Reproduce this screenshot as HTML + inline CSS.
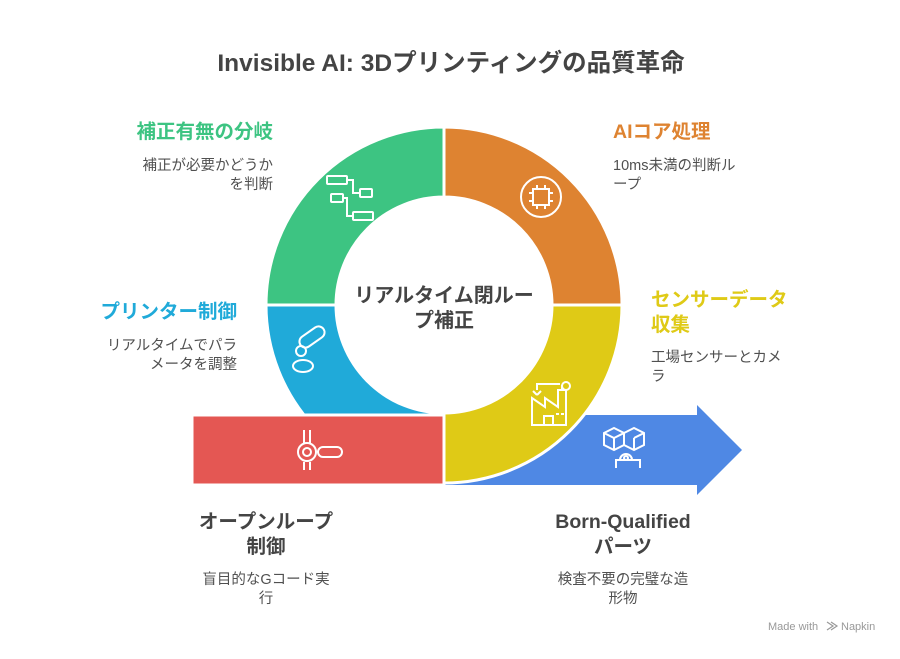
<!DOCTYPE html>
<html><head><meta charset="utf-8"><style>
html,body{margin:0;padding:0;background:#fff;}
svg text{font-family:"Liberation Sans","Noto Sans CJK JP",sans-serif;}
.t{font-weight:bold;font-size:19.5px;}
.c{font-weight:bold;font-size:20px;}
.s{font-size:14.5px;fill:#505050;}
</style></head><body>
<svg width="900" height="654" viewBox="0 0 900 654" xmlns="http://www.w3.org/2000/svg">
<rect width="900" height="654" fill="#fff"/>
<text x="451" y="71" text-anchor="middle" style="font-weight:bold;font-size:24.5px" fill="#444">Invisible AI: 3Dプリンティングの品質革命</text>

<path d="M444 415 H697 V405 L742 450 L697 495 V485 H444 Z" fill="#4f88e4"/>
<path d="M266 305 A178 178 0 0 1 444 127 V197 A108 108 0 0 0 336 305 Z" fill="#3dc482" stroke="#fff" stroke-width="3"/>
<path d="M444 127 A178 178 0 0 1 622 305 H552 A108 108 0 0 0 444 197 Z" fill="#de8331" stroke="#fff" stroke-width="3"/>
<path d="M622 305 A178 178 0 0 1 444 483 V413 A108 108 0 0 0 552 305 Z" fill="#dfca16" stroke="#fff" stroke-width="3"/>
<path d="M266 305 A178 178 0 0 0 444 483 V413 A108 108 0 0 1 336 305 Z" fill="#20aad9" stroke="#fff" stroke-width="3"/>
<rect x="192" y="415" width="252" height="70" fill="#e45753" stroke="#fff" stroke-width="3"/>
<rect x="190" y="486.5" width="256" height="10" fill="#fff"/>

<g fill="none" stroke="#fff" stroke-width="2">
 <rect x="327" y="176" width="20" height="8" rx="1"/><rect x="331" y="194" width="12" height="8" rx="1"/>
 <rect x="360" y="189" width="12" height="8" rx="1"/><rect x="353" y="212" width="20" height="8" rx="1"/>
 <path d="M347 180 H353 V193 H360 M343 198 H347 V216 H353"/>
 <circle cx="541" cy="197" r="20"/><rect x="533" y="189" width="16" height="16"/>
 <path d="M537 185 v4 M545 185 v4 M537 205 v4 M545 205 v4 M529 193 h4 M529 201 h4 M549 193 h4 M549 201 h4"/>
 <rect x="298" y="331" width="28" height="12" rx="6" transform="rotate(-35 312 337)"/>
 <circle cx="301" cy="351" r="5"/><ellipse cx="303" cy="366" rx="10" ry="6"/>
 <path d="M532 415 V398 L545 407 V398 L558 407 V390 H566 V425 H532 Z M544 425 V416 H553 V425 M556 414 h3 M561 414 h3 M562 390 V385 M537 390 V384 H560"/>
 <circle cx="566" cy="386" r="4"/>
 <path d="M537 395 l-4 -4 M537 395 l4 -4"/>
 <path d="M304 430 V443 M310 430 V443 M304 462 V470 M310 462 V470"/><circle cx="307" cy="452" r="9"/><circle cx="307" cy="452" r="4"/>
 <rect x="318" y="447" width="24" height="10" rx="5"/>
 <path d="M604 433 l10 -5 l10 5 v12 l-10 5 l-10 -5 Z M604 433 l10 5 l10 -5 M614 438 v12 M624 433 l10 -5 l10 5 v12 l-10 5 l-10 -5 M634 438 l10 -5 M634 438 v12"/>
 <path d="M616 468 v-8 h24 v8 M620 460 a6 6 0 0 1 12 0"/><circle cx="626" cy="458" r="2"/>
</g>

<text x="444" y="302" text-anchor="middle" class="c" fill="#444">リアルタイム閉ルー</text>
<text x="444" y="327" text-anchor="middle" class="c" fill="#444">プ補正</text>

<text x="273" y="138" text-anchor="end" class="t" fill="#3dc482">補正有無の分岐</text>
<text x="273" y="170" text-anchor="end" class="s">補正が必要かどうか</text>
<text x="273" y="189" text-anchor="end" class="s">を判断</text>

<text x="613" y="138" class="t" fill="#de8331">AIコア処理</text>
<text x="613" y="170" class="s">10ms未満の判断ル</text>
<text x="613" y="189" class="s">ープ</text>

<text x="237" y="318" text-anchor="end" class="t" fill="#20aad9">プリンター制御</text>
<text x="237" y="350" text-anchor="end" class="s">リアルタイムでパラ</text>
<text x="237" y="369" text-anchor="end" class="s">メータを調整</text>

<text x="651" y="306" class="t" fill="#dfca16">センサーデータ</text>
<text x="651" y="331" class="t" fill="#dfca16">収集</text>
<text x="651" y="362" class="s">工場センサーとカメ</text>
<text x="651" y="381" class="s">ラ</text>

<text x="266" y="528" text-anchor="middle" class="t" fill="#444">オープンループ</text>
<text x="266" y="553" text-anchor="middle" class="t" fill="#444">制御</text>
<text x="266" y="584" text-anchor="middle" class="s">盲目的なGコード実</text>
<text x="266" y="603" text-anchor="middle" class="s">行</text>

<text x="623" y="528" text-anchor="middle" class="t" fill="#444">Born-Qualified</text>
<text x="623" y="553" text-anchor="middle" class="t" fill="#444">パーツ</text>
<text x="623" y="584" text-anchor="middle" class="s">検査不要の完璧な造</text>
<text x="623" y="603" text-anchor="middle" class="s">形物</text>

<text x="768" y="630" style="font-size:11px" fill="#999">Made with</text>
<path d="M827 622 l6 4 l-6 4 M831 622 l6 4 l-6 4" stroke="#999" fill="none" stroke-width="1.2"/>
<text x="841" y="630" style="font-size:11px" fill="#999">Napkin</text>
</svg>
</body></html>
